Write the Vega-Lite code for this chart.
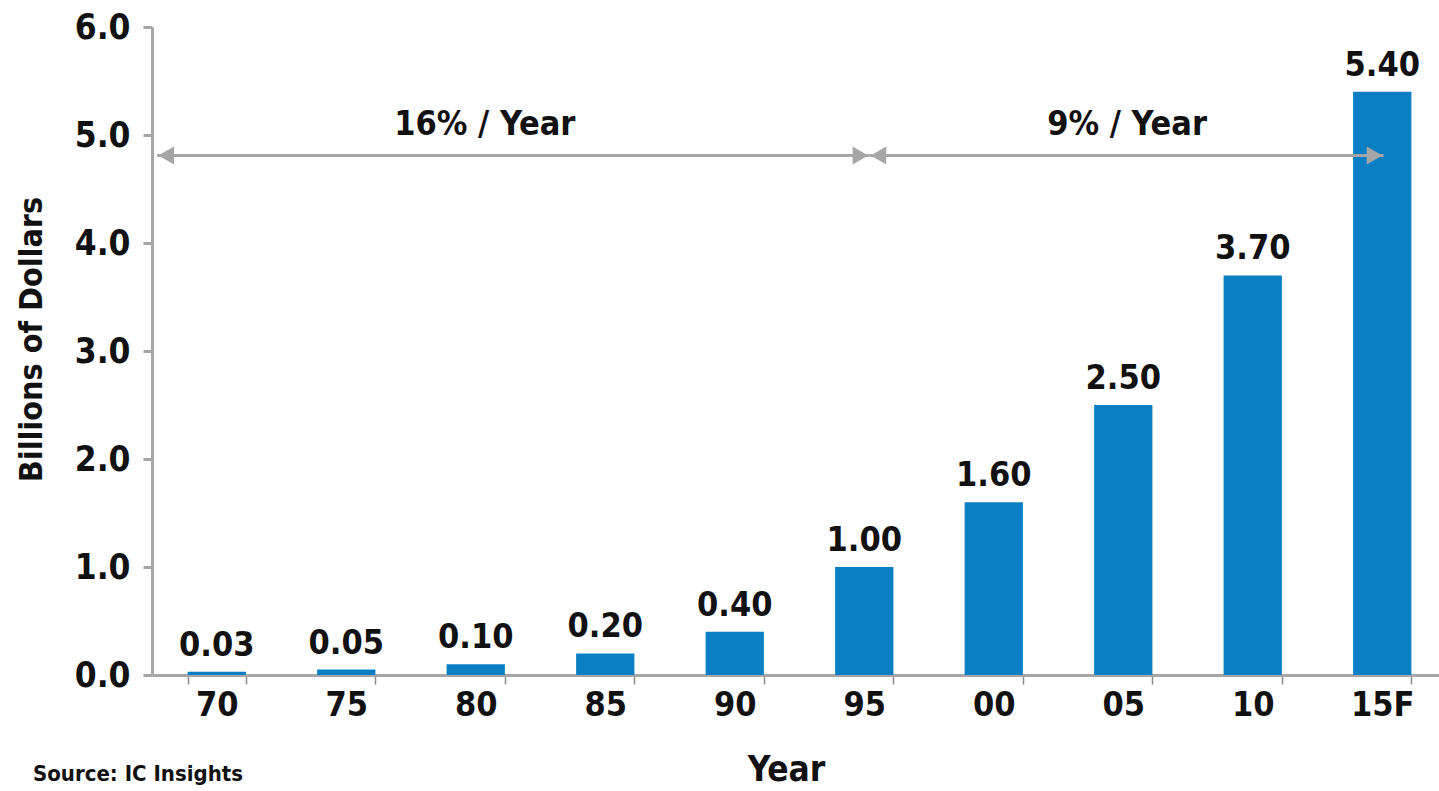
{
  "$schema": "https://vega.github.io/schema/vega-lite/v6.json",
  "autosize": {"type": "none"},
  "width": 1287,
  "height": 648,
  "padding": {"left": 152, "top": 27, "right": 0, "bottom": 116},
  "background": "white",
  "title": {
    "text": "Source: IC Insights",
    "orient": "bottom",
    "anchor": "start",
    "frame": "group",
    "dx": -119,
    "offset": -23,
    "baseline": "top",
    "fontSize": 22,
    "fontWeight": "bold",
    "color": "#111111"
  },
  "datasets": {
    "sales": [
      {"year": "70", "value": 0.03},
      {"year": "75", "value": 0.05},
      {"year": "80", "value": 0.10},
      {"year": "85", "value": 0.20},
      {"year": "90", "value": 0.40},
      {"year": "95", "value": 1.00},
      {"year": "00", "value": 1.60},
      {"year": "05", "value": 2.50},
      {"year": "10", "value": 3.70},
      {"year": "15F", "value": 5.40}
    ],
    "growth": [
      {"from": 0.04, "to": 5.54, "mid": 2.57, "value": 4.81, "label": "16% / Year"},
      {"from": 5.54, "to": 9.51, "mid": 7.53, "value": 4.81, "label": "9% / Year"}
    ],
    "heads": [
      {"pos": 0.04, "value": 4.81, "dir": "left"},
      {"pos": 5.54, "value": 4.81, "dir": "right"},
      {"pos": 5.54, "value": 4.81, "dir": "left"},
      {"pos": 9.51, "value": 4.81, "dir": "right"}
    ]
  },
  "resolve": {"scale": {"x": "independent"}},
  "layer": [
    {
      "data": {"name": "sales"},
      "mark": {"type": "bar", "color": "#0a7fc4"},
      "encoding": {
        "x": {
          "field": "year",
          "type": "ordinal",
          "sort": null,
          "title": "Year",
          "scale": {"range": [0, 1295], "paddingInner": 0.55, "paddingOuter": 0.275},
          "axis": {
            "tickBand": "extent",
            "labelAngle": 0,
            "domainColor": "#a6a6a6",
            "domainWidth": 3,
            "tickColor": "#8a8a8a",
            "tickWidth": 1.5,
            "tickSize": 9,
            "labelPadding": 4,
            "labelFontSize": 34,
            "titleFontSize": 35,
            "titleBaseline": "alphabetic",
            "titleX": 634,
            "titleY": 105
          }
        },
        "y": {
          "field": "value",
          "type": "quantitative",
          "title": "Billions of Dollars",
          "scale": {"domain": [0, 6]},
          "axis": {
            "values": [0, 1, 2, 3, 4, 5, 6],
            "format": ".1f",
            "grid": false,
            "domainColor": "#a6a6a6",
            "domainWidth": 3,
            "tickColor": "#a6a6a6",
            "tickWidth": 3,
            "tickSize": 9,
            "labelPadding": 13,
            "labelFontSize": 35,
            "titleFontSize": 32,
            "titleBaseline": "alphabetic",
            "titleX": -111,
            "titleY": 312
          }
        }
      }
    },
    {
      "data": {"name": "sales"},
      "mark": {"type": "text", "dy": -16, "baseline": "alphabetic", "fontSize": 34, "fontWeight": "bold", "color": "#111111"},
      "encoding": {
        "x": {"field": "year", "type": "ordinal", "sort": null, "axis": null,
              "scale": {"range": [0, 1295], "paddingInner": 0.55, "paddingOuter": 0.275}},
        "y": {"field": "value", "type": "quantitative"},
        "text": {"field": "value", "type": "quantitative", "format": ".2f"}
      }
    },
    {
      "data": {"name": "growth"},
      "mark": {"type": "rule", "color": "#a6a6a6", "strokeWidth": 3},
      "encoding": {
        "x": {"field": "from", "type": "quantitative", "axis": null, "scale": {"domain": [0, 10], "range": [0, 1295], "nice": false, "zero": false}},
        "x2": {"field": "to"},
        "y": {"field": "value", "type": "quantitative"}
      }
    },
    {
      "data": {"name": "growth"},
      "mark": {"type": "text", "dy": -31, "baseline": "middle", "fontSize": 34, "fontWeight": "bold", "color": "#111111"},
      "encoding": {
        "x": {"field": "mid", "type": "quantitative", "axis": null, "scale": {"domain": [0, 10], "range": [0, 1295], "nice": false, "zero": false}},
        "y": {"field": "value", "type": "quantitative"},
        "text": {"field": "label"}
      }
    },
    {
      "data": {"name": "heads"},
      "transform": [{"filter": "datum.dir === 'left'"}],
      "mark": {"type": "point", "shape": "triangle-left", "filled": true, "size": 324, "opacity": 1, "color": "#a6a6a6", "xOffset": 9},
      "encoding": {
        "x": {"field": "pos", "type": "quantitative", "axis": null, "scale": {"domain": [0, 10], "range": [0, 1295], "nice": false, "zero": false}},
        "y": {"field": "value", "type": "quantitative"}
      }
    },
    {
      "data": {"name": "heads"},
      "transform": [{"filter": "datum.dir === 'right'"}],
      "mark": {"type": "point", "shape": "triangle-right", "filled": true, "size": 324, "opacity": 1, "color": "#a6a6a6", "xOffset": -9},
      "encoding": {
        "x": {"field": "pos", "type": "quantitative", "axis": null, "scale": {"domain": [0, 10], "range": [0, 1295], "nice": false, "zero": false}},
        "y": {"field": "value", "type": "quantitative"}
      }
    }
  ],
  "config": {
    "view": {"stroke": null},
    "font": "DejaVu Sans Condensed, Roboto, sans-serif",
    "text": {"font": "DejaVu Sans Condensed, Roboto, sans-serif"},
    "title": {"font": "DejaVu Sans Condensed, Roboto, sans-serif"},
    "axis": {
      "labelFont": "DejaVu Sans Condensed, Roboto, sans-serif",
      "labelFontWeight": "bold",
      "labelColor": "#111111",
      "titleFont": "DejaVu Sans Condensed, Roboto, sans-serif",
      "titleFontWeight": "bold",
      "titleColor": "#111111"
    }
  }
}
